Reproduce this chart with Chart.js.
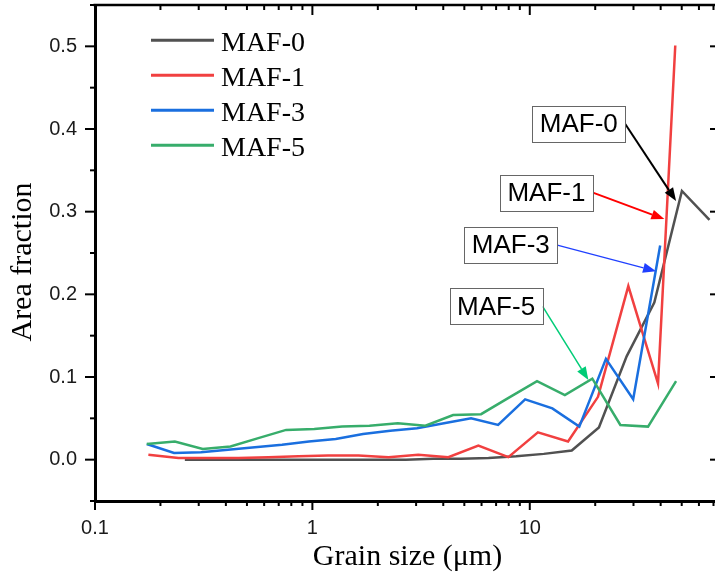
<!DOCTYPE html>
<html>
<head>
<meta charset="utf-8">
<script src="https://cdn.jsdelivr.net/npm/chart.js@4.4.1/dist/chart.umd.min.js"></script>
<style>
  html, body { margin: 0; padding: 0; background: #fff; overflow: hidden; }
  #wrap { width: 715px; height: 581px; overflow: hidden; }
</style>
</head>
<body>
<div id="wrap"><canvas id="chart-line" width="722" height="581"></canvas></div>
<script>
// grain size (um) and area fraction
var maf0X = [0.259, 0.347, 0.465, 0.622, 0.834, 1.12, 1.50, 2.01, 2.69, 3.60, 4.82, 6.46, 8.66, 11.6, 15.6, 20.8, 27.9, 37.4, 50.1, 67.1]
var maf0Y = [0.000, 0.000, 0.000, 0.000, 0.000, 0.000, 0.000, 0.000, 0.000, 0.001, 0.001, 0.002, 0.004, 0.007, 0.011, 0.039, 0.125, 0.190, 0.325, 0.290]

var maf1X = [0.176, 0.242, 0.333, 0.457, 0.628, 0.863, 1.18, 1.63, 2.24, 3.07, 4.22, 5.80, 7.97, 10.9, 15.0, 20.6, 28.4, 38.9, 46.7]
var maf1Y = [0.006, 0.002, 0.002, 0.002, 0.003, 0.004, 0.005, 0.005, 0.003, 0.006, 0.003, 0.017, 0.003, 0.033, 0.022, 0.076, 0.210, 0.092, 0.501]

var maf3X = [0.173, 0.231, 0.307, 0.409, 0.544, 0.725, 0.964, 1.28, 1.71, 2.28, 3.03, 4.03, 5.37, 7.15, 9.52, 12.7, 16.9, 22.4, 29.9, 39.8]
var maf3Y = [0.019, 0.008, 0.009, 0.012, 0.015, 0.018, 0.022, 0.025, 0.031, 0.035, 0.038, 0.044, 0.050, 0.042, 0.073, 0.062, 0.040, 0.122, 0.073, 0.259]

var maf5X = [0.173, 0.233, 0.313, 0.420, 0.564, 0.757, 1.02, 1.37, 1.83, 2.47, 3.31, 4.44, 5.97, 8.02, 10.8, 14.5, 19.4, 26.1, 35.0, 47.1]
var maf5Y = [0.019, 0.022, 0.013, 0.016, 0.026, 0.036, 0.037, 0.040, 0.041, 0.044, 0.041, 0.054, 0.055, 0.075, 0.095, 0.078, 0.098, 0.042, 0.040, 0.095]

var seriesNames = ['MAF-0', 'MAF-1', 'MAF-3', 'MAF-5']
var seriesColors = ['#515151', '#F14040', '#1A6FDF', '#37AD6B']

// axis ticks
var xTicks = [0.1, 1, 10]
var xMinorTicks = [0.2, 0.3, 0.4, 0.5, 0.6, 0.7, 0.8, 0.9, 2, 3, 4, 5, 6, 7, 8, 9, 20, 30, 40, 50, 60, 70]
var yTicks = [0, 0.1, 0.2, 0.3, 0.4, 0.5]
var yMinorTicks = [-0.05, 0.05, 0.15, 0.25, 0.35, 0.45, 0.55]
var yTitle = 'Area fraction'

// labelled arrows: box centre and arrow tip in data units
var callouts = [
    { text: 'MAF-0', bx: 16.8, by: 0.406, tx: 47.1, ty: 0.313, color: '#000000', lw: 2 },
    { text: 'MAF-1', bx: 11.93, by: 0.323, tx: 41.6, ty: 0.291, color: '#ff0000', lw: 2 },
    { text: 'MAF-3', bx: 8.18, by: 0.2595, tx: 38.1, ty: 0.228, color: '#2040ff', lw: 1.2 },
    { text: 'MAF-5', bx: 7.0, by: 0.1854, tx: 18.6, ty: 0.0965, color: '#00cc77', lw: 1.5 }
]

function pairs(xs, ys) {
    return xs.map(function (x, i) { return { x: x, y: ys[i] } })
}

var allX = [maf0X, maf1X, maf3X, maf5X]
var allY = [maf0Y, maf1Y, maf3Y, maf5Y]
var datasets = seriesNames.map(function (name, i) {
    return {
        label: name,
        data: pairs(allX[i], allY[i]),
        borderColor: seriesColors[i],
        borderWidth: 2.5,
        pointRadius: 0,
        fill: false,
        tension: 0,
        order: 4 - i
    }
})

function drawArrow(ctx, x1, y1, x2, y2, color, lw) {
    var ang = Math.atan2(y2 - y1, x2 - x1)
    var len = 13, half = 5
    var bx = x2 - len * Math.cos(ang), by = y2 - len * Math.sin(ang)
    ctx.strokeStyle = color
    ctx.fillStyle = color
    ctx.lineWidth = lw
    ctx.beginPath()
    ctx.moveTo(x1, y1)
    ctx.lineTo(bx, by)
    ctx.stroke()
    ctx.beginPath()
    ctx.moveTo(x2, y2)
    ctx.lineTo(bx + half * Math.sin(ang), by - half * Math.cos(ang))
    ctx.lineTo(bx - half * Math.sin(ang), by + half * Math.cos(ang))
    ctx.closePath()
    ctx.fill()
}

var extras = {
    id: 'extras',
    afterDraw: function (chart) {
        var ctx = chart.ctx
        var a = chart.chartArea
        var xs = chart.scales.x, ys = chart.scales.y
        ctx.save()

        // frame top / right
        ctx.strokeStyle = '#000'
        ctx.lineWidth = 2.5
        ctx.beginPath()
        ctx.moveTo(a.left - 1.5, a.top)
        ctx.lineTo(a.right, a.top)
        ctx.lineTo(a.right, a.bottom)
        ctx.stroke()

        // tick marks
        ctx.lineWidth = 2
        function tick(x1, y1, x2, y2) {
            ctx.beginPath(); ctx.moveTo(x1, y1); ctx.lineTo(x2, y2); ctx.stroke()
        }
        xTicks.forEach(function (v) {
            var p = xs.getPixelForValue(v)
            tick(p, a.bottom, p, a.bottom + 9)
            tick(p, a.top, p, a.top + 10)
        })
        xMinorTicks.forEach(function (v) {
            var p = xs.getPixelForValue(v)
            tick(p, a.bottom, p, a.bottom + 5)
            tick(p, a.top, p, a.top + 5)
        })
        yTicks.forEach(function (v) {
            var p = ys.getPixelForValue(v)
            tick(a.left - 10, p, a.left, p)
            tick(a.right - 10, p, a.right, p)
        })
        yMinorTicks.forEach(function (v) {
            var p = ys.getPixelForValue(v)
            tick(a.left - 5, p, a.left, p)
            tick(a.right - 5, p, a.right, p)
        })

        // y axis title (sits a little below the middle in the original)
        ctx.save()
        ctx.translate(23, (a.top + a.bottom) / 2 + 9)
        ctx.rotate(-Math.PI / 2)
        ctx.font = '30px "Liberation Serif", "Times New Roman", serif'
        ctx.fillStyle = '#000'
        ctx.textAlign = 'center'
        ctx.textBaseline = 'middle'
        ctx.fillText(yTitle, 0, 0)
        ctx.restore()

        // legend
        ctx.font = '28px "Liberation Serif", "Times New Roman", serif'
        ctx.textAlign = 'left'
        ctx.textBaseline = 'alphabetic'
        chart.data.datasets.forEach(function (ds, i) {
            var y = a.top + 35.3 + i * 35
            ctx.strokeStyle = ds.borderColor
            ctx.lineWidth = 3
            tick(151, y, 214, y)
            ctx.fillStyle = '#000'
            ctx.fillText(ds.label, 221, y + 10.3)
        })

        // callouts
        ctx.font = '26px "Liberation Sans", Arial, sans-serif'
        ctx.textAlign = 'center'
        ctx.textBaseline = 'middle'
        callouts.forEach(function (c) {
            var cx = xs.getPixelForValue(c.bx), cy = ys.getPixelForValue(c.by)
            var w = 93, h = 36
            drawArrow(ctx, cx + w / 2, cy, xs.getPixelForValue(c.tx), ys.getPixelForValue(c.ty), c.color, c.lw)
            ctx.fillStyle = '#fff'
            ctx.fillRect(cx - w / 2, cy - h / 2, w, h)
            ctx.strokeStyle = '#666'
            ctx.lineWidth = 1
            ctx.strokeRect(Math.round(cx - w / 2) + 0.5, Math.round(cy - h / 2) + 0.5, w, h)
            ctx.fillStyle = '#000'
            ctx.fillText(c.text, cx, cy + 1)
        })
        ctx.restore()
    }
}

var ctx = document.getElementById('chart-line')
var myLineChart = new Chart(ctx, {
    type: 'line',
    data: { datasets: datasets },
    plugins: [extras],
    options: {
        responsive: false,
        animation: false,
        devicePixelRatio: 1,
        layout: { padding: { top: 5, right: 2, left: 0, bottom: 0 } },
        plugins: {
            legend: { display: false },
            tooltip: { enabled: false }
        },
        scales: {
            x: {
                type: 'logarithmic',
                min: 0.1,
                max: 75,
                afterBuildTicks: function (scale) {
                    scale.ticks = xTicks.map(function (v) { return { value: v } })
                },
                afterFit: function (scale) {
                    scale.height = 80
                    scale.paddingLeft = 0
                    scale.paddingRight = 0
                },
                grid: { display: false, drawTicks: false },
                border: { display: true, color: '#000', width: 3 },
                ticks: {
                    autoSkip: false,
                    maxRotation: 0,
                    padding: 15,
                    color: '#1a1a1a',
                    font: { family: '"Liberation Sans", Arial, sans-serif', size: 20 },
                    callback: function (v) { return String(v) }
                },
                title: {
                    display: true,
                    text: 'Grain size (μm)',
                    color: '#000',
                    font: { family: '"Liberation Serif", "Times New Roman", serif', size: 30 },
                    padding: { top: 0, bottom: 6 }
                }
            },
            y: {
                type: 'linear',
                min: -0.05,
                max: 0.55,
                afterBuildTicks: function (scale) {
                    scale.ticks = yTicks.map(function (v) { return { value: v } })
                },
                afterFit: function (scale) {
                    scale.width = 95
                    scale.paddingTop = 0
                    scale.paddingBottom = 0
                },
                grid: { display: false, drawTicks: false },
                border: { display: true, color: '#000', width: 3 },
                ticks: {
                    autoSkip: false,
                    padding: 18,
                    color: '#1a1a1a',
                    font: { family: '"Liberation Sans", Arial, sans-serif', size: 20 },
                    callback: function (v) { return v.toFixed(1) }
                },
                title: { display: false }
            }
        }
    }
})
</script>
</body>
</html>
